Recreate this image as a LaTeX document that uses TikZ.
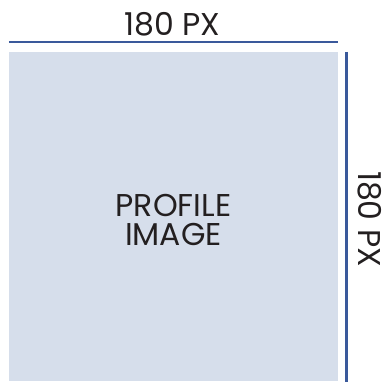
\documentclass[tikz,border=0pt]{standalone}
\usepackage{fontspec}
\setmainfont{Poppins}
\usetikzlibrary{positioning}
\definecolor{boxfill}{HTML}{D6DEEB}
\definecolor{dimline}{HTML}{3A599B}
\definecolor{labeltext}{HTML}{231F20}
\tikzset{
    imgbox/.style={fill=boxfill, minimum width=329pt, minimum height=329pt, inner sep=0pt},
    dimrule/.style={draw=dimline, line width=2.5pt},
    dimlabel/.style={text=labeltext, font=\fontsize{31.5}{29}\selectfont, inner sep=0pt},
}
\begin{document}
\begin{tikzpicture}[x=1pt, y=-1pt]
    \useasboundingbox (0,0) rectangle (384,392);
    % --- profile image placeholder ---
    \node[imgbox] (img) at (173.5,216.5) {};
    \node[dimlabel, align=center] (imgtext) at (173.5,220) {PROFILE\\IMAGE};
    % --- width dimension ---
    \coordinate (wl) at ([yshift=10pt]img.north west);
    \coordinate (wr) at ([yshift=10pt]img.north east);
    \draw[dimrule] (wl) -- (wr);
    \node[dimlabel] (wtext) at (172.5,24) {180 PX};
    % --- height dimension ---
    \coordinate (ht) at ([xshift=8.5pt]img.north east);
    \coordinate (hb) at ([xshift=8.5pt, yshift=-1pt]img.south east);
    \draw[dimrule] (ht) -- (hb);
    \node[dimlabel, rotate=-90] (htext) at (370,219) {180 PX};
\end{tikzpicture}
\end{document}
